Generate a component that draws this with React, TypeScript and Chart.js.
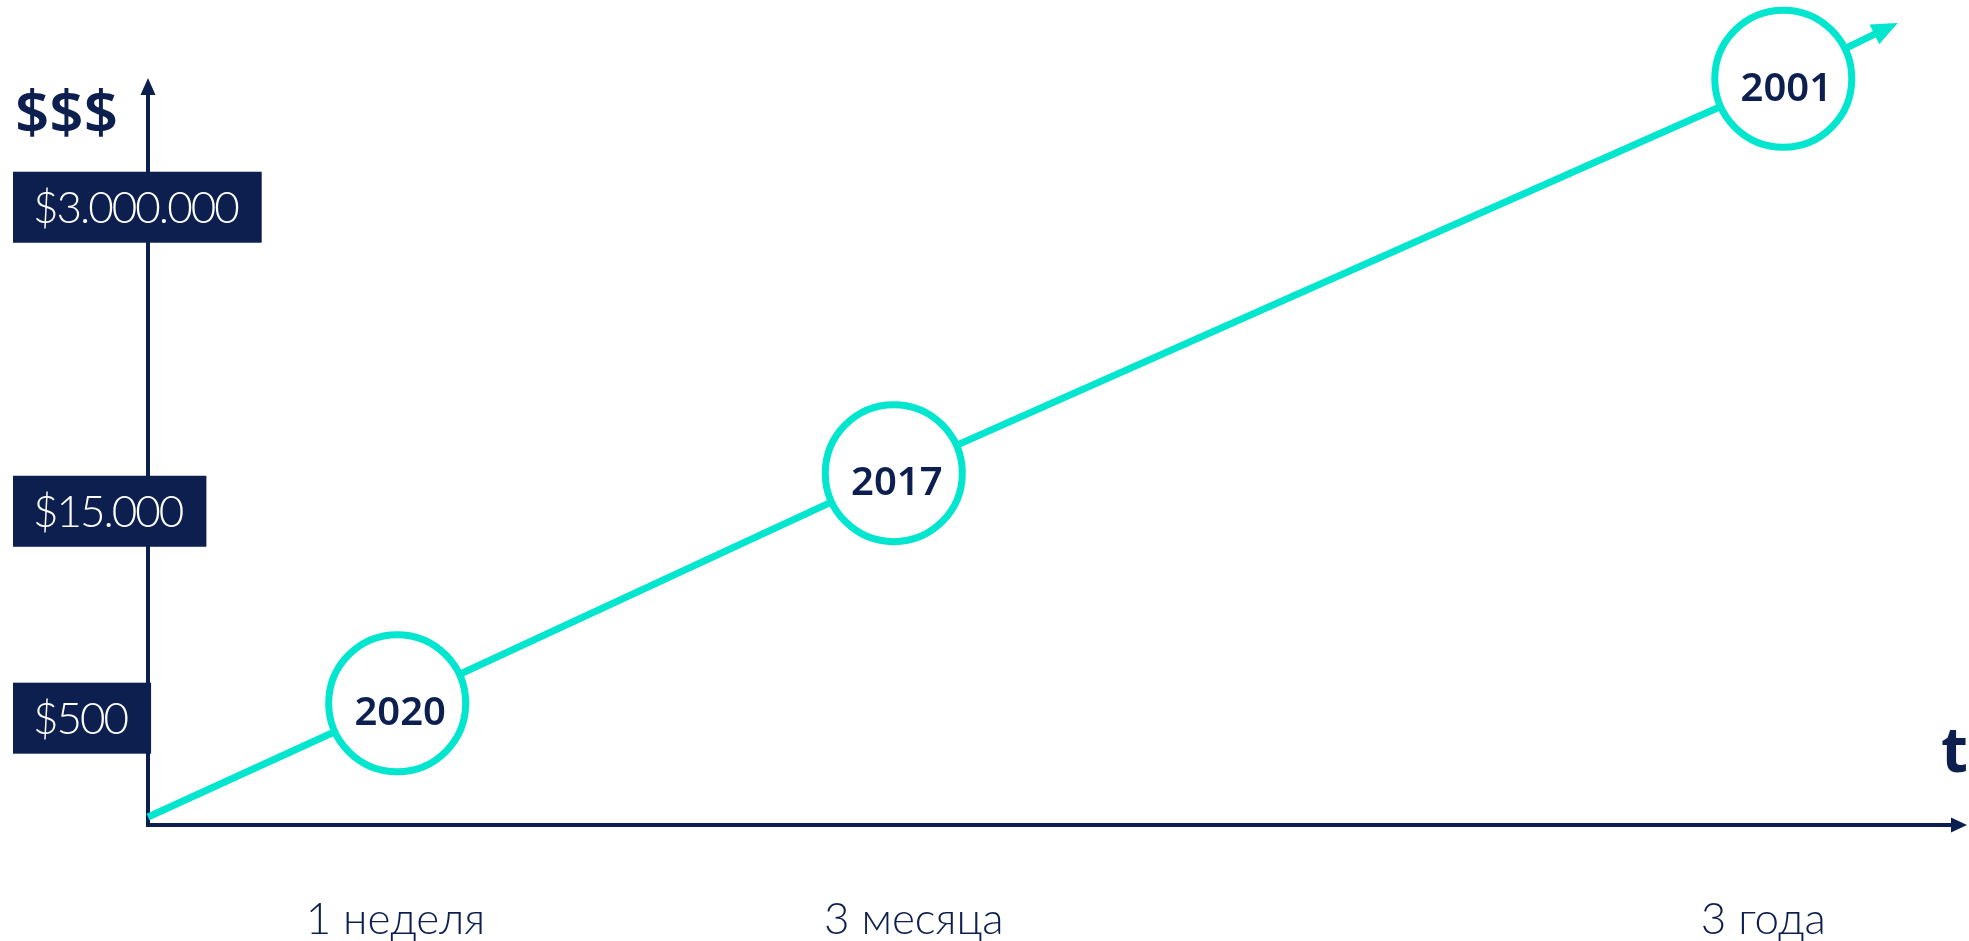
import { useEffect, useRef } from "react";
import { Chart, registerables } from "chart.js";

Chart.register(...registerables);

// ---- data ----
const periodLabels = ["1 неделя", "3 месяца", "3 года"];
const periodX = [13.6, 42.1, 88.8];

const priceLabels = ["$500", "$15.000", "$3.000.000"];
const priceY = [14.3, 42.0, 82.7];

const pathX = [0, 13.7, 41.0, 89.9, 95.8];
const pathY = [1.07, 16.3, 47.1, 99.9, 106.9];
const yearLabels = ["", "2020", "2017", "2001", ""];

const yAxisTitle = "$$$";
const xAxisTitle = "t";

const NAVY = "#0D1F4F";
const TEAL = "#02E6CF";

const decorPlugin = {
  id: "decor",
  beforeDatasetsDraw(chart: any) {
    const { ctx, chartArea } = chart;
    const { left, right, top, bottom } = chartArea;
    ctx.save();
    ctx.strokeStyle = NAVY;
    ctx.fillStyle = NAVY;
    ctx.lineWidth = 4;
    // y axis
    ctx.beginPath();
    ctx.moveTo(left, bottom + 2);
    ctx.lineTo(left, top + 12);
    ctx.stroke();
    ctx.beginPath();
    ctx.moveTo(left, top);
    ctx.lineTo(left - 7.5, top + 17);
    ctx.lineTo(left + 7.5, top + 17);
    ctx.closePath();
    ctx.fill();
    // x axis
    ctx.beginPath();
    ctx.moveTo(left - 2, bottom);
    ctx.lineTo(right - 12, bottom);
    ctx.stroke();
    ctx.beginPath();
    ctx.moveTo(right, bottom);
    ctx.lineTo(right - 16, bottom - 7.5);
    ctx.lineTo(right - 16, bottom + 7.5);
    ctx.closePath();
    ctx.fill();

    // axis titles
    ctx.font = "600 60px 'Noto Sans'";
    ctx.textAlign = "left";
    ctx.textBaseline = "alphabetic";
    ctx.fillText(yAxisTitle, 15, 133);
    ctx.font = "700 62px 'Open Sans'";
    ctx.textAlign = "right";
    ctx.fillText(xAxisTitle, right + 1, 772);
    ctx.restore();
  },
  afterDatasetsDraw(chart: any) {
    const { ctx, chartArea } = chart;
    const meta = chart.getDatasetMeta(0);
    const pts = meta.data;
    ctx.save();
    // arrow head at end of path
    const a = pts[pts.length - 2];
    const b = pts[pts.length - 1];
    const dx = b.x - a.x;
    const dy = b.y - a.y;
    const len = Math.hypot(dx, dy);
    const ux = dx / len;
    const uy = dy / len;
    const tipX = b.x + ux * 8;
    const tipY = b.y + uy * 8;
    const L = 26;
    const W = 11;
    const bx = tipX - ux * L;
    const by = tipY - uy * L;
    ctx.fillStyle = TEAL;
    ctx.beginPath();
    ctx.moveTo(tipX, tipY);
    ctx.lineTo(bx - uy * W, by + ux * W);
    ctx.lineTo(bx + uy * W, by - ux * W);
    ctx.closePath();
    ctx.fill();

    // year labels in circles
    ctx.fillStyle = NAVY;
    ctx.font = "600 40px 'Noto Sans'";
    ctx.textAlign = "center";
    ctx.textBaseline = "alphabetic";
    yearLabels.forEach((lab, i) => {
      if (!lab) return;
      const p = pts[i];
      ctx.fillText(lab, p.x + 3, p.y + 22);
    });

    // x labels
    const xs = chart.scales.x;
    ctx.font = "300 44px Lato";
    ctx.fillStyle = NAVY;
    ctx.textBaseline = "alphabetic";
    periodLabels.forEach((lab, i) => {
      ctx.fillText(lab, xs.getPixelForValue(periodX[i]), chartArea.bottom + 109);
    });

    // y labels in boxes
    const ys = chart.scales.y;
    ctx.font = "300 44px Lato";
    (ctx as any).letterSpacing = "-2px";
    ctx.textAlign = "left";
    ctx.textBaseline = "middle";
    priceLabels.forEach((lab, i) => {
      const cy = ys.getPixelForValue(priceY[i]);
      const w = ctx.measureText(lab).width;
      ctx.fillStyle = NAVY;
      ctx.fillRect(13, cy - 35.5, w + 44, 71);
      ctx.fillStyle = "#FFFFFF";
      ctx.fillText(lab, 33, cy + 2);
    });
    ctx.restore();
  },
};

export default function App() {
  const ref = useRef<HTMLCanvasElement | null>(null);
  useEffect(() => {
    document.body.style.margin = "0";
    const canvas = ref.current;
    if (!canvas) return;
    const chart = new Chart(canvas, {
      type: "line",
      data: {
        datasets: [
          {
            data: pathX.map((x, i) => ({ x, y: pathY[i] })),
            borderColor: TEAL,
            borderWidth: 7,
            pointRadius: yearLabels.map((l) => (l ? 68.5 : 0)),
            pointHoverRadius: yearLabels.map((l) => (l ? 68.5 : 0)),
            pointBorderWidth: 7,
            pointBackgroundColor: "#FFFFFF",
            pointBorderColor: TEAL,
            tension: 0,
            clip: false as any,
          },
        ],
      },
      options: {
        animation: false,
        responsive: true,
        maintainAspectRatio: false,
        layout: { padding: { left: 148, right: 2, top: 78, bottom: 116 } },
        scales: {
          x: { type: "linear", min: 0, max: 100, display: false },
          y: { type: "linear", min: 0, max: 100, display: false },
        },
        plugins: { legend: { display: false }, tooltip: { enabled: false } },
        events: [],
      },
      plugins: [decorPlugin],
    });
    return () => chart.destroy();
  }, []);
  return (
    <div style={{ position: "fixed", left: 0, top: 0, width: "1969px", height: "941px", background: "#fff" }}>
      <canvas ref={ref} />
    </div>
  );
}
